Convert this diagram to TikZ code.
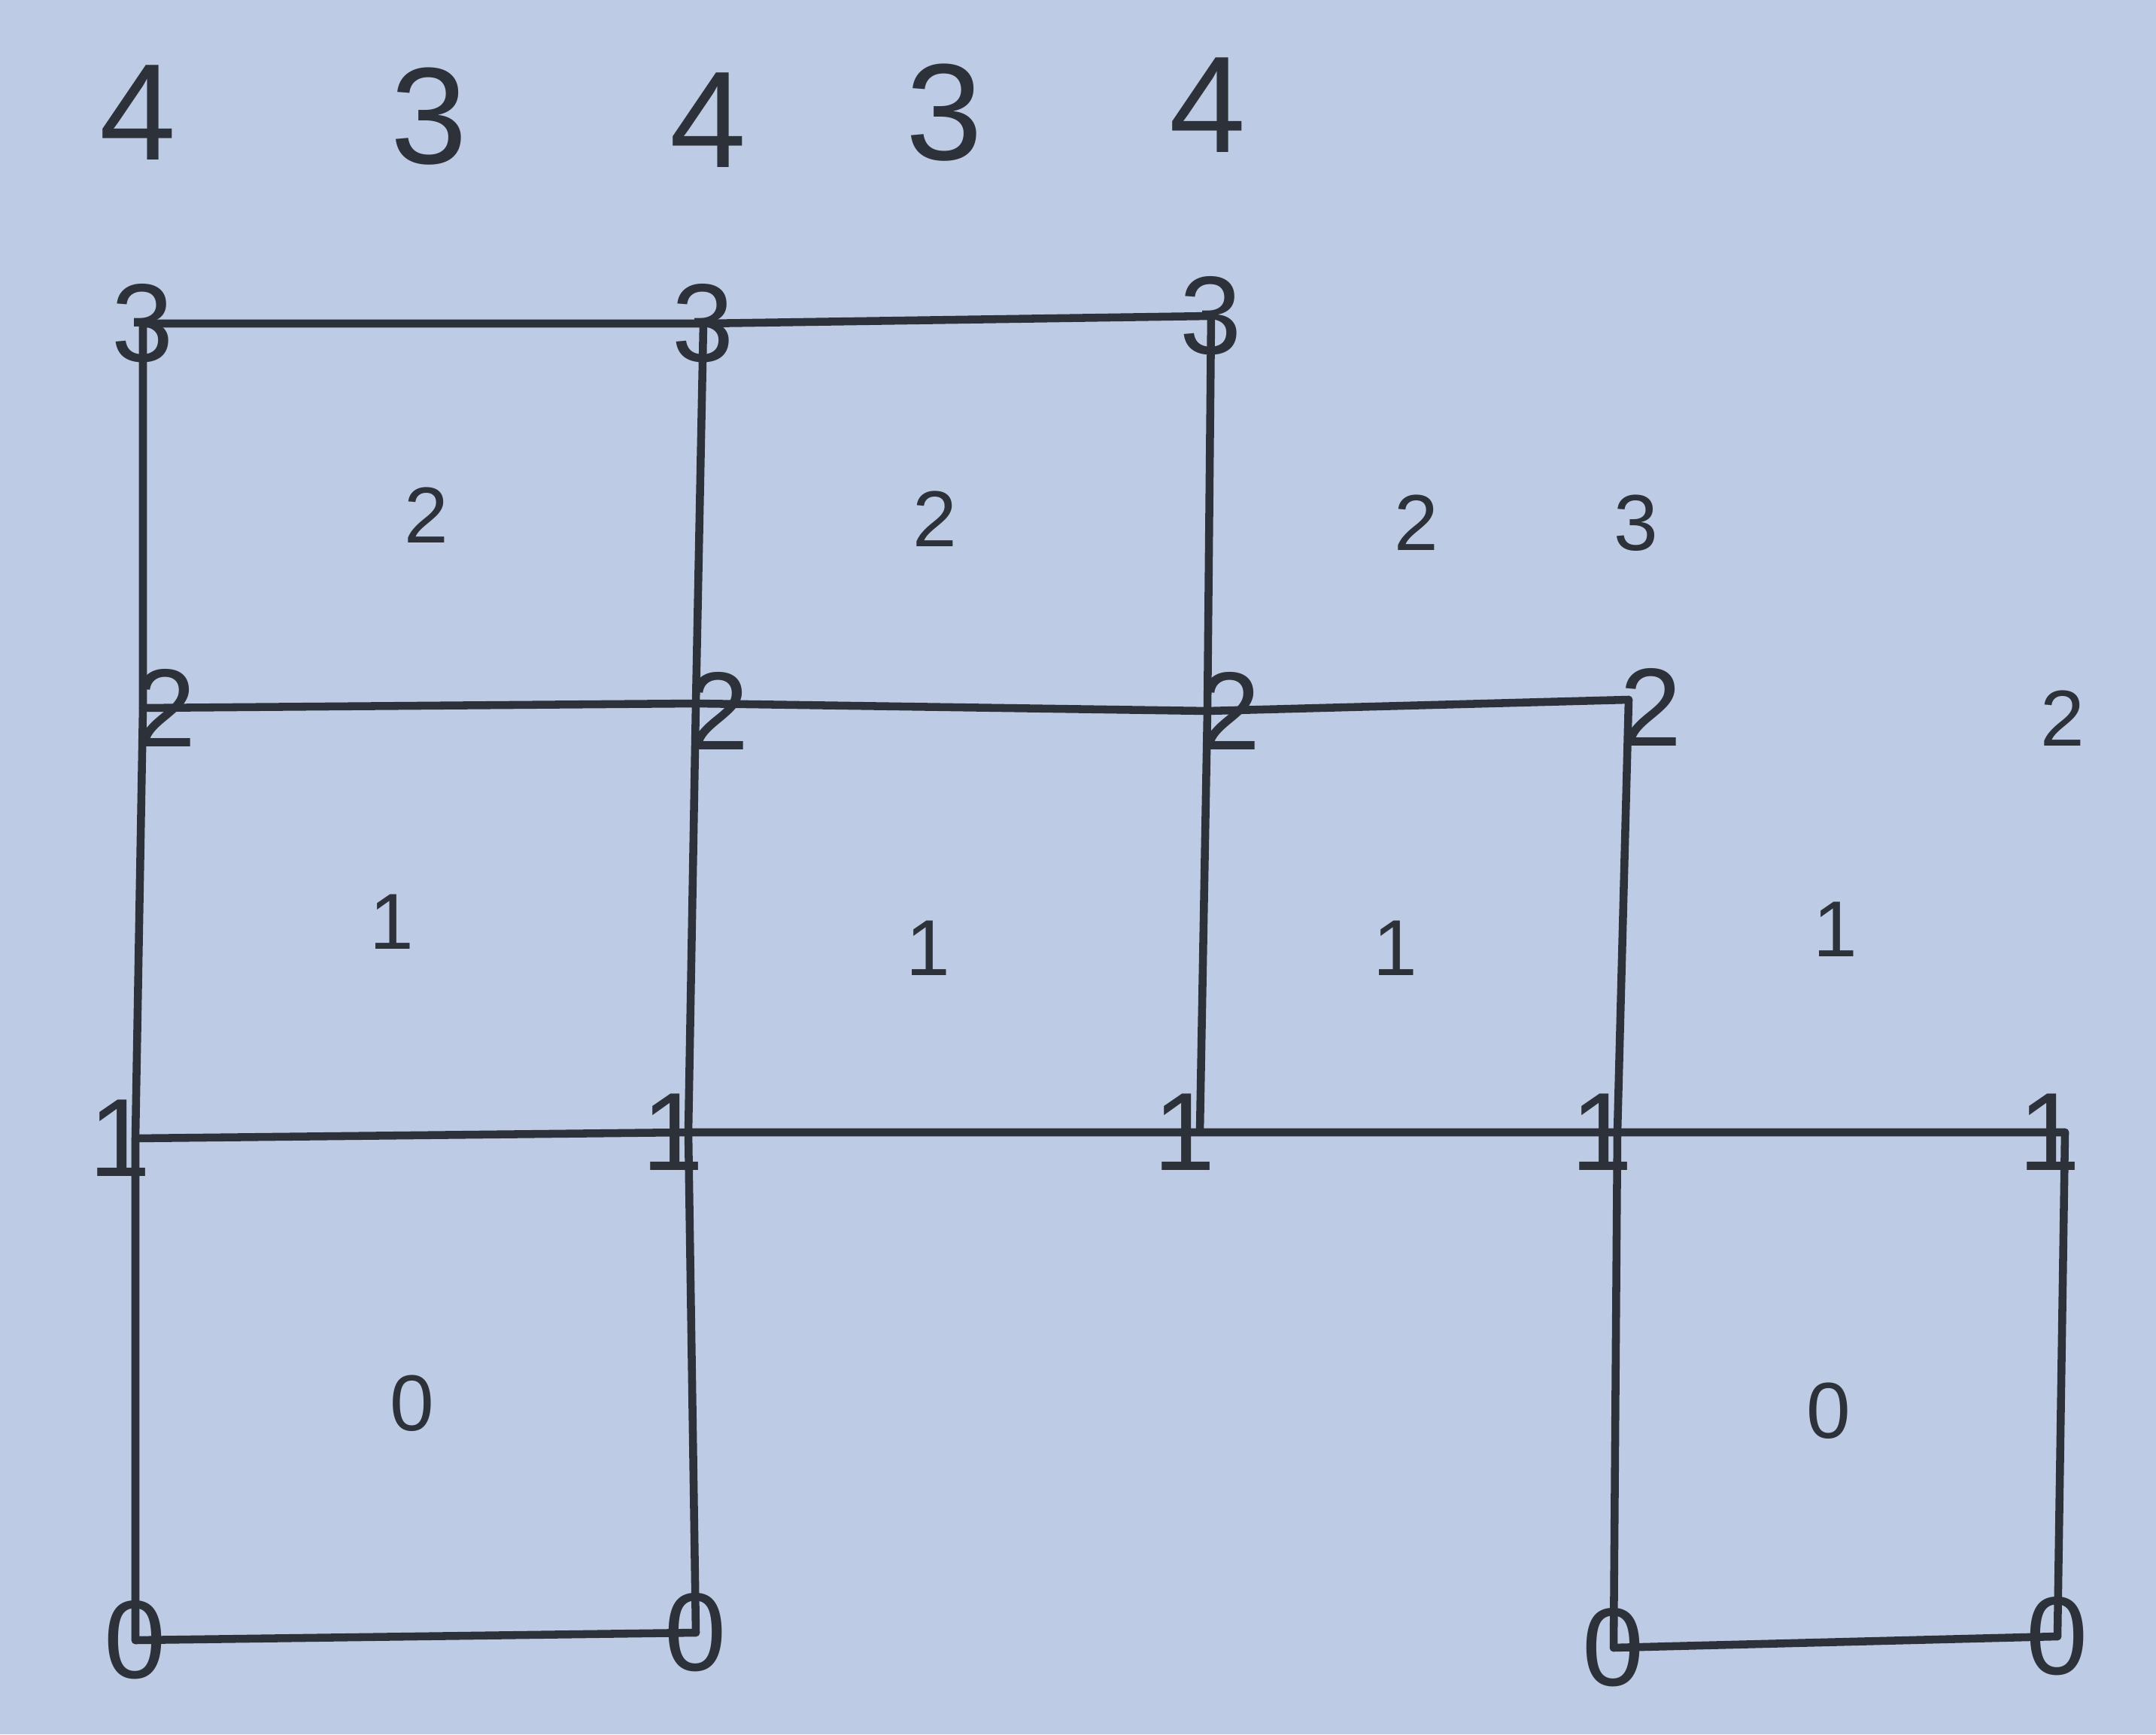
\documentclass[tikz,border=0pt]{standalone}
\usepackage{xcolor}
\usepackage{fontspec}
\setmainfont{Liberation Sans}

\definecolor{paper}{RGB}{189,204,228}
\definecolor{pencil}{RGB}{45,49,57}

\begin{document}
\begin{tikzpicture}[
        corner/.style={text=pencil, font=\fontsize{42}{42}\selectfont, inner sep=0pt},
        celltext/.style={text=pencil, font=\fontsize{30}{30}\selectfont, inner sep=0pt},
        toptext/.style={text=pencil, font=\fontsize{52}{52}\selectfont, inner sep=0pt},
        edge/.style={draw=pencil, line width=3pt, line cap=round}
    ]
        % Paper
        \fill[paper] (0, 0) rectangle (28.66, 23.05);
        \useasboundingbox (0, 0) rectangle (28.66, 23.05);

        % Grid points
        \coordinate (pa3) at (1.90, 18.75);
        \coordinate (pb3) at (9.35, 18.75);
        \coordinate (pc3) at (16.10, 18.85);
        \coordinate (pa2) at (1.90, 13.64);
        \coordinate (pb2) at (9.25, 13.70);
        \coordinate (pc2) at (16.05, 13.60);
        \coordinate (pd2) at (21.65, 13.75);
        \coordinate (pa1) at (1.80, 7.92);
        \coordinate (pb1) at (9.15, 8.00);
        \coordinate (pc1) at (15.95, 8.00);
        \coordinate (pd1) at (21.50, 8.00);
        \coordinate (pe1) at (27.45, 8.00);
        \coordinate (pa0) at (1.80, 1.25);
        \coordinate (pb0) at (9.25, 1.35);
        \coordinate (pd0) at (21.45, 1.15);
        \coordinate (pe0) at (27.35, 1.30);

        % Draw the corner labels
        \node[corner] (a3) at (pa3) {3};
        \node[corner] (b3) at (pb3) {3};
        \node[corner] (c3) at (pc3) {3};
        \node[corner] (a2) at ([xshift=3mm]pa2) {2};
        \node[corner] (b2) at ([xshift=3mm, yshift=-1mm]pb2) {2};
        \node[corner] (c2) at ([xshift=3mm]pc2) {2};
        \node[corner] (d2) at ([xshift=3mm, yshift=-1mm]pd2) {2};
        \node[corner] (a1) at ([xshift=-2mm]pa1) {1};
        \node[corner] (b1) at ([xshift=-2mm]pb1) {1};
        \node[corner] (c1) at ([xshift=-2mm]pc1) {1};
        \node[corner] (d1) at ([xshift=-2mm]pd1) {1};
        \node[corner] (e1) at ([xshift=-2mm]pe1) {1};
        \node[corner] (a0) at (pa0) {0};
        \node[corner] (b0) at (pb0) {0};
        \node[corner] (d0) at (pd0) {0};
        \node[corner] (e0) at (pe0) {0};

        % Draw the horizontal lines
        \draw[edge] (pa3) -- (pb3) -- (pc3);
        \draw[edge] (pa2) -- (pb2) -- (pc2) -- (pd2);
        \draw[edge] (pa1) -- (pb1) -- (pc1) -- (pd1) -- (pe1);
        \draw[edge] (pa0) -- (pb0);
        \draw[edge] (pd0) -- (pe0);

        % Draw the vertical lines
        \draw[edge] (pa3) -- (pa2) -- (pa1) -- (pa0);
        \draw[edge] (pb3) -- (pb2) -- (pb1) -- (pb0);
        \draw[edge] (pc3) -- (pc2) -- (pc1);
        \draw[edge] (pd2) -- (pd1) -- (pd0);
        \draw[edge] (pe1) -- (pe0);

        % Top row of numbers
        \node[toptext] (top1) at (1.83, 21.55) {4};
        \node[toptext] (top2) at (5.70, 21.50) {3};
        \node[toptext] (top3) at (9.41, 21.45) {4};
        \node[toptext] (top4) at (12.55, 21.55) {3};
        \node[toptext] (top5) at (16.05, 21.65) {4};

        % Numbers inside the cells
        \node[celltext] (two1) at (5.67, 16.20) {2};
        \node[celltext] (two2) at (12.43, 16.15) {2};
        \node[celltext] (two3) at (18.83, 16.10) {2};
        \node[celltext] (three) at (21.75, 16.10) {3};
        \node[celltext] (two4) at (27.42, 13.50) {2};

        \node[celltext] (one1) at (5.21, 10.80) {1};
        \node[celltext] (one2) at (12.34, 10.45) {1};
        \node[celltext] (one3) at (18.55, 10.45) {1};
        \node[celltext] (one4) at (24.40, 10.70) {1};

        \node[celltext] (zero1) at (5.48, 4.40) {0};
        \node[celltext] (zero2) at (24.31, 4.30) {0};

    \end{tikzpicture}
\end{document}
